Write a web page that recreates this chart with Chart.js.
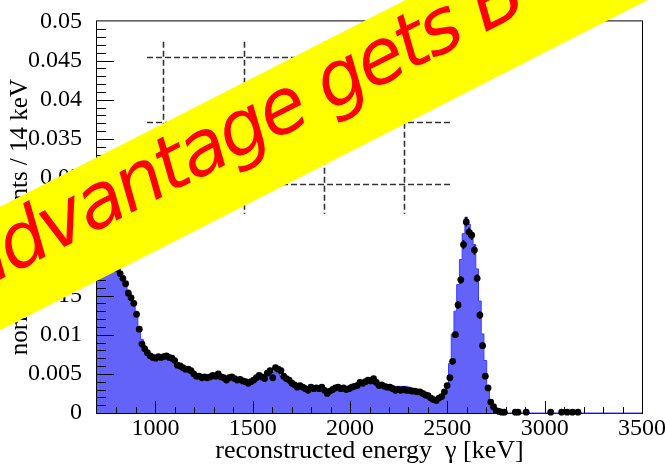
<!DOCTYPE html>
<html>
<head>
<meta charset="utf-8">
<script src="https://cdn.jsdelivr.net/npm/chart.js@4.4.1/dist/chart.umd.min.js"></script>
<style>
  html, body { margin: 0; padding: 0; background: #fff; overflow: hidden; }
  #wrap { width: 665px; height: 467px; }
</style>
</head>
<body>
<div id="wrap"><canvas id="c" width="665" height="467"></canvas></div>
<script>
// Energy binning: 14 keV bins starting at 700 keV
const binStart = 700;
const binWidth = 14;

// Simulated spectrum (filled histogram), normalized counts per bin
const mcHist = [
  0.0200, 0.0199, 0.0198, 0.0196, 0.0194, 0.0192, 0.0189, 0.0185, 0.0172, 0.0174,
  0.0166, 0.0157, 0.0149, 0.0141, 0.0130, 0.0110, 0.0094, 0.0086, 0.0078, 0.0074,
  0.0072, 0.0072, 0.0071, 0.0073, 0.0073, 0.0072, 0.0071, 0.0069, 0.0066, 0.0063,
  0.0061, 0.0059, 0.0057, 0.0055, 0.0053, 0.0050, 0.0048, 0.0047, 0.0046, 0.0046,
  0.0046, 0.0045, 0.0045, 0.0045, 0.0046, 0.0044, 0.0044, 0.0043, 0.0044, 0.0044,
  0.0043, 0.0043, 0.0042, 0.0042, 0.0041, 0.0041, 0.0042, 0.0043, 0.0044, 0.0046,
  0.0046, 0.0047, 0.0048, 0.0050, 0.0052, 0.0053, 0.0051, 0.0047, 0.0044, 0.0041,
  0.0039, 0.0037, 0.0035, 0.0034, 0.0033, 0.0033, 0.0032, 0.0032, 0.0032, 0.0031,
  0.0031, 0.0031, 0.0031, 0.0030, 0.0030, 0.0030, 0.0031, 0.0031, 0.0031, 0.0031,
  0.0032, 0.0032, 0.0033, 0.0034, 0.0036, 0.0038, 0.0040, 0.0041, 0.0043, 0.0044,
  0.0045, 0.0043, 0.0040, 0.0038, 0.0036, 0.0035, 0.0035, 0.0035, 0.0035, 0.0034,
  0.0034, 0.0034, 0.0034, 0.0034, 0.0033, 0.0032, 0.0031, 0.0029, 0.0027, 0.0025,
  0.0023, 0.0021, 0.0019, 0.0018, 0.0018, 0.0019, 0.0024, 0.0030, 0.0038, 0.0063,
  0.0101, 0.0130, 0.0164, 0.0196, 0.0229, 0.0250, 0.0241, 0.0228, 0.0215, 0.0184,
  0.0143, 0.0101, 0.0067, 0.0032, 0.0016, 0.0008, 0.0004, 0.0002, 0.0001, 0,
  0, 0, 0, 0, 0, 0, 0, 0, 0, 0,
  0, 0, 0, 0, 0, 0, 0, 0, 0, 0,
  0, 0, 0, 0, 0, 0, 0, 0, 0, 0,
  0, 0, 0, 0, 0, 0, 0, 0, 0, 0,
  0, 0, 0, 0, 0, 0, 0, 0, 0, 0
];

// Measured spectrum (markers); null where the bin is empty
const dataPts = [
  0.0203, 0.0200, 0.0198, 0.0197, 0.0194, 0.0192, 0.0188, 0.0184, 0.0178, 0.0172,
  0.0165, 0.0153, 0.0147, 0.0140, 0.0126, 0.0107, 0.0088, 0.0082, 0.0077, 0.0073,
  0.0071, 0.0070, 0.0072, 0.0071, 0.0072, 0.0073, 0.0071, 0.0070, 0.0067, 0.0061,
  0.0060, 0.0058, 0.0056, 0.0056, 0.0054, 0.0050, 0.0047, 0.0047, 0.0045, 0.0046,
  0.0045, 0.0046, 0.0048, 0.0047, 0.0050, 0.0046, 0.0045, 0.0042, 0.0045, 0.0046,
  0.0044, 0.0042, 0.0043, 0.0041, 0.0040, 0.0038, 0.0040, 0.0042, 0.0045, 0.0048,
  0.0046, 0.0044, 0.0051, 0.0054, 0.0045, 0.0058, 0.0056, 0.0054, 0.0047, 0.0044,
  0.0042, 0.0038, 0.0036, 0.0033, 0.0035, 0.0033, 0.0031, 0.0029, 0.0033, 0.0031,
  0.0032, 0.0031, 0.0033, 0.0029, 0.0025, 0.0028, 0.0030, 0.0032, 0.0033, 0.0031,
  0.0032, 0.0030, 0.0031, 0.0033, 0.0034, 0.0035, 0.0039, 0.0038, 0.0040, 0.0042,
  0.0041, 0.0044, 0.0039, 0.0035, 0.0036, 0.0034, 0.0033, 0.0033, 0.0031, 0.0029,
  0.0030, 0.0029, 0.0030, 0.0029, 0.0029, 0.0028, 0.0028, 0.0027, 0.0027, 0.0025,
  0.0023, 0.0022, 0.0019, 0.0017, 0.0016, 0.0019, 0.0021, 0.0027, 0.0035, 0.0045,
  0.0066, 0.0100, 0.0138, 0.0170, 0.0215, 0.0244, 0.0231, 0.0227, 0.0208, 0.0172,
  0.0125, 0.0086, 0.0047, 0.0032, 0.0014, 0.0008, 0.0003, 0.0002, 0.0001, 0.0001,
  null, null, null, 0.0001, 0.0001, null, null, 0.0001, null, null,
  null, null, null, null, null, null, 0.0001, null, null, null,
  0.0001, null, 0.0001, null, 0.0001, null, 0.0001, null, null, null,
  null, null, null, null, null, null, null, null, null, null,
  null, null, null, null, null, null, null, null, null, null
];

// Statistical errors of the markers around the full-energy peak
const peakErrFirstBin = 130;
const peakErr = [0.0003, 0.0004, 0.0005, 0.0005, 0.0006, 0.0006, 0.0006, 0.0006, 0.0006, 0.0005, 0.0005, 0.0004, 0.0003];

// Axes
const xAxisMin = 700, xAxisMax = 3500;
const yAxisMin = 0, yAxisMax = 0.05;
const xTickValues = [1000, 1500, 2000, 2500, 3000, 3500];
const xTickLabels = ['1000', '1500', '2000', '2500', '3000', '3500'];
const yTickValues = [0, 0.005, 0.01, 0.015, 0.02, 0.025, 0.03, 0.035, 0.04, 0.045, 0.05];
const yTickLabels = ['0', '0.005', '0.01', '0.015', '0.02', '0.025', '0.03', '0.035', '0.04', '0.045', '0.05'];
const xMinorStep = 100, xMajorStep = 500;
const yMinorStep = 0.001, yMajorEvery = 5;

// Dashed board in the upper left of the frame (data units)
const boardColumnsX = [1039, 1455, 1866, 2277];
const boardRowsY = [0.0455, 0.0372, 0.0292];
const boardSpanX = [957, 2524];
const boardSpanY = [0.0254, 0.0474];

// Diagonal banner
const bannerText = 'advantage gets B';

const serif = '"Liberation Serif", "Times New Roman", serif';

const histPoints = mcHist.map((v, i) => ({ x: binStart + i * binWidth, y: v }));
histPoints.push({ x: binStart + mcHist.length * binWidth, y: mcHist[mcHist.length - 1] });

const markerPoints = [];
dataPts.forEach((v, i) => {
  if (v !== null) markerPoints.push({ x: binStart + (i + 0.5) * binWidth, y: v, bin: i });
});

const framePlugin = {
  id: 'frame',
  beforeDatasetsDraw(chart) {
    const { ctx, chartArea: a } = chart;
    ctx.save();
    ctx.strokeStyle = '#000';
    ctx.lineWidth = 1;
    ctx.strokeRect(a.left - 0.5, a.top - 0.5, a.right - a.left + 1, a.bottom - a.top + 1);
    ctx.restore();
  }
};

const errorBarPlugin = {
  id: 'errorBars',
  afterDatasetsDraw(chart) {
    const { ctx, scales: { x, y } } = chart;
    ctx.save();
    ctx.strokeStyle = '#000';
    ctx.lineWidth = 1.6;
    ctx.beginPath();
    peakErr.forEach((e, k) => {
      const bin = peakErrFirstBin + k;
      const v = dataPts[bin];
      if (v === null) return;
      const px = x.getPixelForValue(binStart + (bin + 0.5) * binWidth);
      ctx.moveTo(px, y.getPixelForValue(v + e));
      ctx.lineTo(px, y.getPixelForValue(v - e));
    });
    ctx.stroke();
    ctx.restore();
  }
};

const axisTickPlugin = {
  id: 'axisTicks',
  afterDatasetsDraw(chart) {
    const { ctx, chartArea: a, scales: { x, y } } = chart;
    ctx.save();
    ctx.strokeStyle = '#000';
    ctx.lineWidth = 1;
    ctx.beginPath();
    for (let v = xAxisMin + xMinorStep; v < xAxisMax; v += xMinorStep) {
      const px = Math.round(x.getPixelForValue(v)) + 0.5;
      const len = v % xMajorStep === 0 ? 12 : 6;
      ctx.moveTo(px, a.bottom);
      ctx.lineTo(px, a.bottom - len);
    }
    const nMinor = Math.round((yAxisMax - yAxisMin) / yMinorStep);
    for (let k = 1; k < nMinor; k++) {
      const py = Math.round(y.getPixelForValue(yAxisMin + k * yMinorStep)) + 0.5;
      const len = k % yMajorEvery === 0 ? 17 : 9;
      ctx.moveTo(a.left, py);
      ctx.lineTo(a.left + len, py);
    }
    ctx.stroke();
    ctx.restore();
  }
};

const boardPlugin = {
  id: 'board',
  afterDatasetsDraw(chart) {
    const { ctx, scales: { x, y } } = chart;
    ctx.save();
    ctx.strokeStyle = 'rgba(0,0,0,0.8)';
    ctx.lineWidth = 1.6;
    ctx.setLineDash([6, 3]);
    ctx.beginPath();
    boardColumnsX.forEach(cx => {
      const px = Math.round(x.getPixelForValue(cx)) + 0.5;
      ctx.moveTo(px, y.getPixelForValue(boardSpanY[1]));
      ctx.lineTo(px, y.getPixelForValue(boardSpanY[0]));
    });
    boardRowsY.forEach(ry => {
      const py = Math.round(y.getPixelForValue(ry)) + 0.5;
      ctx.moveTo(x.getPixelForValue(boardSpanX[0]), py);
      ctx.lineTo(x.getPixelForValue(boardSpanX[1]), py);
    });
    ctx.stroke();
    ctx.restore();
  }
};

const bannerPlugin = {
  id: 'banner',
  afterDraw(chart) {
    const ctx = chart.ctx;
    const angle = Math.atan(0.51);
    ctx.save();
    ctx.translate(0, 268.5);
    ctx.rotate(-angle);
    ctx.fillStyle = '#ffff00';
    ctx.fillRect(-300, -55, 1400, 110);
    ctx.fillStyle = '#ff0000';
    ctx.font = 'oblique 76px "DejaVu Sans"';
    if ('letterSpacing' in ctx) ctx.letterSpacing = '-3px';
    ctx.textBaseline = 'alphabetic';
    ctx.textAlign = 'left';
    ctx.fillText(bannerText, -35, 10);
    ctx.restore();
  }
};

new Chart(document.getElementById('c'), {
  data: {
    datasets: [
      {
        type: 'line',
        label: 'simulation',
        data: histPoints,
        stepped: 'before',
        fill: 'origin',
        backgroundColor: 'rgb(99,99,250)',
        borderColor: 'rgb(60,60,255)',
        borderWidth: 1,
        pointRadius: 0,
        clip: 3,
        order: 2
      },
      {
        type: 'line',
        label: 'data',
        data: markerPoints,
        showLine: false,
        pointRadius: 3.4,
        pointBackgroundColor: '#000',
        pointBorderWidth: 0,
        pointBorderColor: '#000',
        clip: 5,
        order: 1
      }
    ]
  },
  options: {
    responsive: false,
    animation: false,
    events: [],
    layout: { padding: { top: 17, right: 23, left: 0, bottom: 0 } },
    plugins: { legend: { display: false }, tooltip: { enabled: false } },
    scales: {
      x: {
        type: 'linear',
        min: xAxisMin,
        max: xAxisMax,
        grid: { display: false },
        border: { display: false },
        afterBuildTicks: s => { s.ticks = xTickValues.map(v => ({ value: v })); },
        afterFit: s => { s.height = 54; },
        ticks: {
          autoSkip: false,
          maxRotation: 0,
          padding: -7,
          color: '#000',
          font: { family: serif, size: 24 },
          callback: v => xTickLabels[xTickValues.indexOf(v)]
        },
        title: {
          display: true,
          text: 'reconstructed energy  \u03b3 [keV]',
          color: '#000',
          font: { family: serif, size: 26 },
          padding: { top: 0, bottom: 0 }
        }
      },
      y: {
        type: 'linear',
        min: yAxisMin,
        max: yAxisMax,
        grid: { display: false },
        border: { display: false },
        afterBuildTicks: s => { s.ticks = yTickValues.map(v => ({ value: v })); },
        afterFit: s => { s.width = 97; },
        ticks: {
          autoSkip: false,
          padding: 7,
          color: '#000',
          font: { family: serif, size: 24 },
          callback: v => yTickLabels[yTickValues.indexOf(v)]
        },
        title: {
          display: true,
          text: 'normalized counts / 14 keV',
          color: '#000',
          font: { family: serif, size: 25 },
          padding: { top: 5, bottom: 0 }
        }
      }
    }
  },
  plugins: [framePlugin, errorBarPlugin, axisTickPlugin, boardPlugin, bannerPlugin]
});
</script>
</body>
</html>
